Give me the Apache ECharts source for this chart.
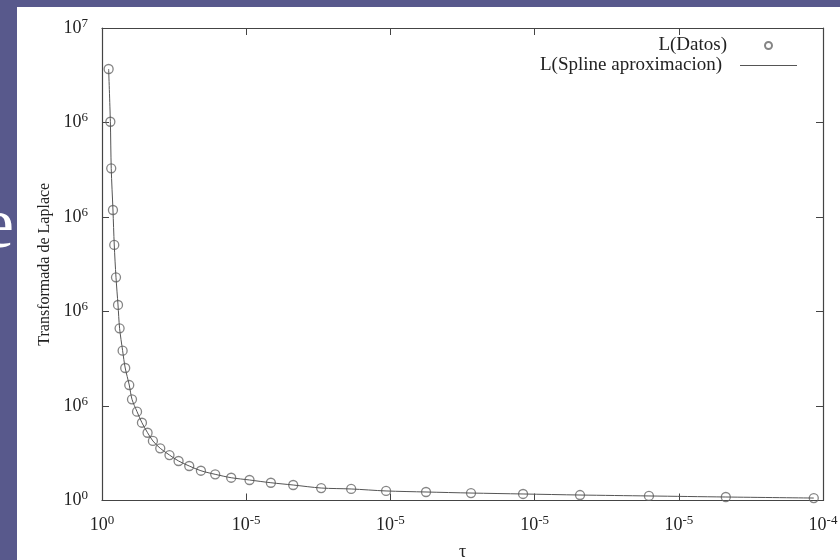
<!DOCTYPE html>
<html>
<head>
<meta charset="utf-8">
<script src="https://cdn.jsdelivr.net/npm/echarts@6/dist/echarts.min.js"></script>
<style>
  html, body { margin: 0; padding: 0; background: #58598c; }
  #chart { width: 840px; height: 560px; }
</style>
</head>
<body>
<div id="chart"></div>
<script>
// valores (unidades del eje lineal 0..5)
const tau = [0.046, 0.058, 0.064, 0.076, 0.085, 0.097, 0.111, 0.122, 0.143, 0.161,
  0.189, 0.208, 0.243, 0.277, 0.316, 0.353, 0.404, 0.468, 0.531, 0.605,
  0.686, 0.785, 0.896, 1.023, 1.171, 1.326, 1.520, 1.728, 1.970, 2.247,
  2.559, 2.920, 3.315, 3.793, 4.326, 4.936];
const laplace = [4.566, 4.008, 3.515, 3.074, 2.704, 2.362, 2.069, 1.822, 1.585, 1.402,
  1.222, 1.071, 0.940, 0.823, 0.717, 0.630, 0.552, 0.481, 0.418, 0.365,
  0.315, 0.277, 0.241, 0.217, 0.188, 0.164, 0.132, 0.122, 0.101, 0.090,
  0.079, 0.069, 0.058, 0.048, 0.037, 0.026];
// exponentes de las etiquetas (tal como aparecen)
const xTickExp = ['0', '-5', '-5', '-5', '-5', '-4'];
const yTickExp = ['0', '6', '6', '6', '6', '7'];

const serif = "'Liberation Serif', 'Times New Roman', serif";
const points = tau.map((t, i) => [t, laplace[i]]);

const powRich = {
  b: { fontFamily: serif, fontSize: 18, color: '#222', lineHeight: 22 },
  e: { fontFamily: serif, fontSize: 13, color: '#222', lineHeight: 8, verticalAlign: 'top' }
};
const powLabel = exps => v => '{b|10}{e|' + exps[Math.round(v)] + '}';

const axisLine = { onZero: false, lineStyle: { color: '#444', width: 1.2 } };
const tickIn = { inside: true, length: 7, lineStyle: { color: '#444', width: 1 } };

const chart = echarts.init(document.getElementById('chart'));
chart.setOption({
  animation: false,
  graphic: [
    { type: 'text', z: -3, left: -18, top: 192,
      style: { text: 'e', fontFamily: serif, fontSize: 72, fill: '#ffffff' } },
    { type: 'rect', z: -2, shape: { x: 17, y: 7, width: 823, height: 553 },
      style: { fill: '#ffffff' } }
  ],
  grid: { left: 102, right: 17, top: 28, bottom: 59.5, outerBoundsMode: 'none' },
  legend: [
    { data: ['L(Datos)'], orient: 'vertical', align: 'right', right: 67, top: 36, padding: 0,
      itemWidth: 57, itemHeight: 7,
      textStyle: { fontFamily: serif, fontSize: 19, color: '#222', padding: [0, 8, 0, 0] } },
    { data: [{ name: 'L(Spline aproximacion)', icon: 'path://M0,0H57V1H0Z' }],
      orient: 'vertical', align: 'right', right: 43, top: 56, padding: 0,
      itemWidth: 57, itemHeight: 7,
      textStyle: { fontFamily: serif, fontSize: 19, color: '#222', padding: [0, 13, 0, 0] } }
  ],
  xAxis: [
    { type: 'value', min: 0, max: 5, interval: 1,
      name: 'τ', nameLocation: 'middle', nameGap: 43,
      nameTextStyle: { fontFamily: serif, fontSize: 18, color: '#222' },
      axisLine: axisLine, axisTick: tickIn, splitLine: { show: false },
      axisLabel: { margin: 14, formatter: powLabel(xTickExp), rich: powRich } },
    { type: 'value', position: 'top', min: 0, max: 5, interval: 1,
      axisLine: axisLine, axisTick: tickIn, splitLine: { show: false },
      axisLabel: { show: false } }
  ],
  yAxis: [
    { type: 'value', min: 0, max: 5, interval: 1,
      name: 'Transformada de Laplace', nameLocation: 'middle', nameGap: 49,
      nameTextStyle: { fontFamily: serif, fontSize: 16, color: '#222' },
      axisLine: axisLine, axisTick: tickIn, splitLine: { show: false },
      axisLabel: { margin: 14, formatter: powLabel(yTickExp), rich: powRich } },
    { type: 'value', position: 'right', min: 0, max: 5, interval: 1,
      axisLine: axisLine, axisTick: tickIn, splitLine: { show: false },
      axisLabel: { show: false } }
  ],
  series: [
    { name: 'L(Spline aproximacion)', type: 'line', data: points, smooth: 0.3,
      symbol: 'none', lineStyle: { color: '#555', width: 1 }, itemStyle: { color: '#555' } },
    { name: 'L(Datos)', type: 'scatter', data: points, symbol: 'circle', symbolSize: 9,
      itemStyle: { color: 'rgba(255,255,255,0)', borderColor: '#666', borderWidth: 1.3 } }
  ]
});
</script>
</body>
</html>
